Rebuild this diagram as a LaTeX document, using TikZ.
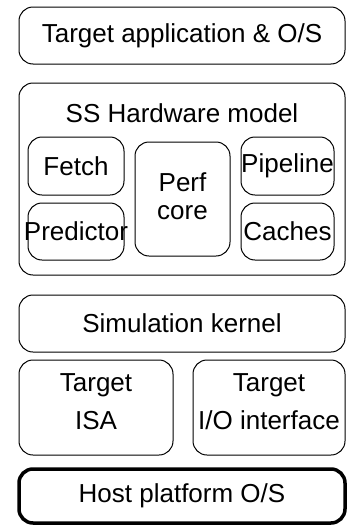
\documentclass[tikz,border=0pt]{standalone}
\usepackage{fontspec}
\setmainfont{Liberation Sans}
\begin{document}
\begin{tikzpicture}[x=1pt,y=1pt,
  blk/.style={draw=black, line width=1pt, rounded corners=14pt, inner sep=0pt, align=center},
  txt/.style={font=\fontsize{26}{28}\selectfont},
  lbl/.style={inner sep=0pt, align=center, font=\fontsize{26}{28}\selectfont}]
\useasboundingbox (0,0) rectangle (349,-525);
\node[blk,txt,minimum width=326pt,minimum height=57pt] (app) at (182,-35.5) {Target application \& O/S};
\node[blk,minimum width=326pt,minimum height=192pt] (hw) at (182,-179) {};
\node[lbl] (hwl) at (182,-113) {SS Hardware model};
\node[blk,minimum width=96pt,minimum height=58pt] (fetch) at (76,-166) {};
\node[lbl] (fetchl) at (fetch.center) {Fetch};
\node[blk,minimum width=96pt,minimum height=57pt] (pred) at (76,-231.5) {};
\node[lbl] (predl) at (pred.center) {Predictor};
\node[blk,minimum width=95pt,minimum height=114pt] (perf) at (182.5,-199) {};
\node[lbl,font=\fontsize{26}{28}\selectfont] (perfl) at (182.5,-196) {Perf\\core};
\node[blk,minimum width=93pt,minimum height=58pt] (pipe) at (287.5,-166) {};
\node[lbl] (pipel) at (pipe.center) {Pipeline};
\node[blk,minimum width=93pt,minimum height=57pt] (cache) at (287.5,-231.5) {};
\node[lbl] (cachel) at (cache.center) {Caches};
\node[blk,txt,minimum width=326pt,minimum height=57pt] (kern) at (182,-323.5) {Simulation kernel};
\node[blk,minimum width=154pt,minimum height=95pt] (isa) at (96,-407.5) {};
\node[lbl,font=\fontsize{26}{38}\selectfont] (isal) at (96,-402) {Target\\ISA};
\node[blk,minimum width=152pt,minimum height=95pt] (io) at (269,-407.5) {};
\node[lbl,font=\fontsize{26}{38}\selectfont] (iol) at (269,-402) {Target\\I/O interface};
\node[blk,txt,line width=3.5pt,minimum width=326pt,minimum height=54pt] (host) at (182,-496) {Host platform O/S};
\end{tikzpicture}
\end{document}
